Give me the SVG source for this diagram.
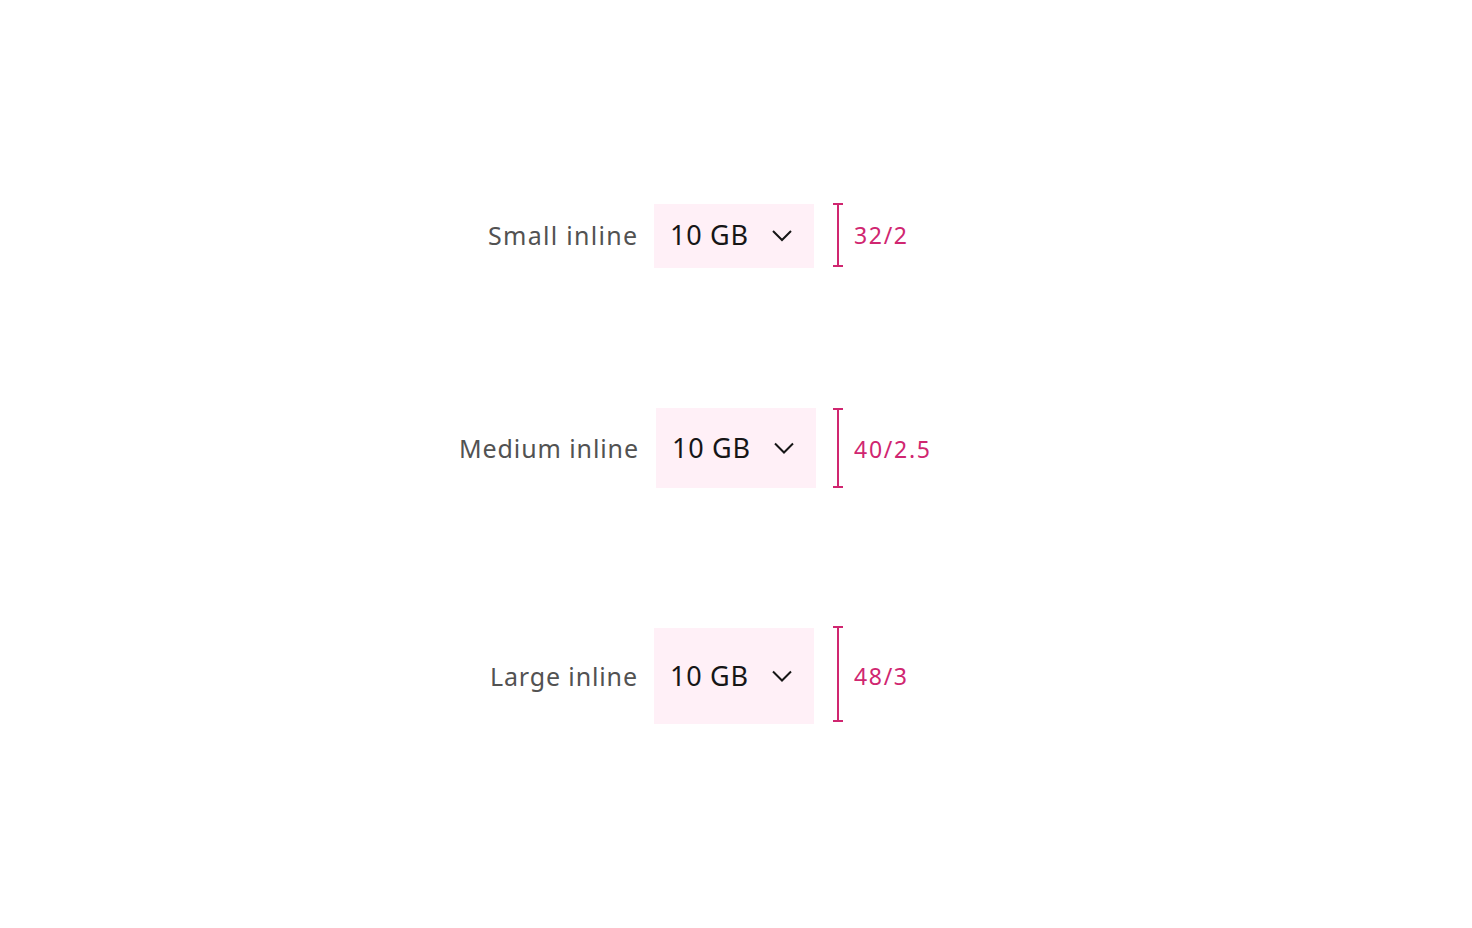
<svg xmlns="http://www.w3.org/2000/svg" width="1472" height="928" viewBox="0 0 1472 928">
<style>
.lbl{font-family:"Noto Sans","Liberation Sans",Arial,sans-serif;font-size:25px;fill:#525252;text-anchor:end}
.val{font-family:"Noto Sans","Liberation Sans",Arial,sans-serif;font-size:27px;fill:#161616}
.box{fill:#fff0f7}
.chev{fill:none;stroke:#161616;stroke-width:2}
.br{fill:none;stroke:#d02670;stroke-width:2}
.dim{font-family:"Noto Sans","Liberation Sans",Arial,sans-serif;font-size:23px;fill:#d02670}
</style>
<rect width="1472" height="928" fill="#ffffff"/>
<g id="small">
<text class="lbl" x="637" y="245" textLength="149" lengthAdjust="spacing">Small inline</text>
<rect class="box" x="654" y="204" width="160" height="64"/>
<text class="val" x="670" y="245" textLength="78" lengthAdjust="spacing">10 GB</text>
<polyline class="chev" points="773,231 782,240 791,231"/>
<path class="br" d="M833,204H843M838,204V266M833,266H843"/>
<text class="dim" x="854" y="244" textLength="53" lengthAdjust="spacing">32/2</text>
</g>
<g id="medium">
<text class="lbl" x="638" y="458" textLength="179" lengthAdjust="spacing">Medium inline</text>
<rect class="box" x="656" y="408" width="160" height="80"/>
<text class="val" x="672" y="458" textLength="78" lengthAdjust="spacing">10 GB</text>
<polyline class="chev" points="775,443.5 784,452.5 793,443.5"/>
<path class="br" d="M833,409H843M838,409V487M833,487H843"/>
<text class="dim" x="854" y="458" textLength="76" lengthAdjust="spacing">40/2.5</text>
</g>
<g id="large">
<text class="lbl" x="637" y="686" textLength="147" lengthAdjust="spacing">Large inline</text>
<rect class="box" x="654" y="628" width="160" height="96"/>
<text class="val" x="670" y="686" textLength="78" lengthAdjust="spacing">10 GB</text>
<polyline class="chev" points="773,671.5 782,680.5 791,671.5"/>
<path class="br" d="M833,627H843M838,627V721M833,721H843"/>
<text class="dim" x="854" y="685" textLength="53" lengthAdjust="spacing">48/3</text>
</g>
<g id="connectors"></g>
</svg>
